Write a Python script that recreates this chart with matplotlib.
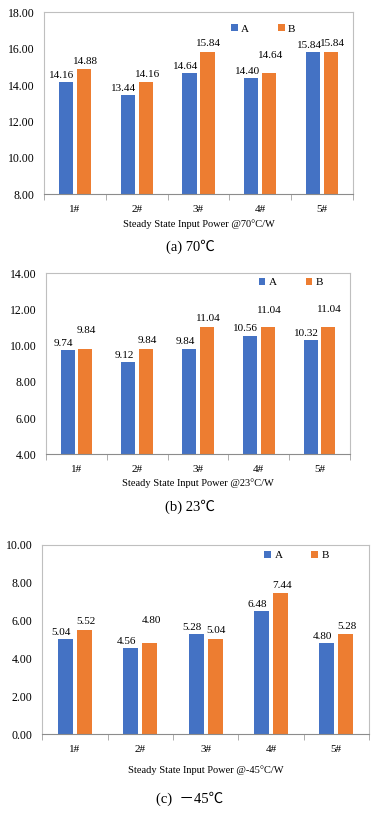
import numpy as np
import matplotlib.pyplot as plt

categories = ["1#", "2#", "3#", "4#", "5#"]
series_names = ["A", "B"]

a_70 = [14.16, 13.44, 14.64, 14.40, 15.84]
b_70 = [14.88, 14.16, 15.84, 14.64, 15.84]
a_23 = [9.74, 9.12, 9.84, 10.56, 10.32]
b_23 = [9.84, 9.84, 11.04, 11.04, 11.04]
a_m45 = [5.04, 4.56, 5.28, 6.48, 4.80]
b_m45 = [5.52, 4.80, 5.04, 7.44, 5.28]

xlabels = ["Steady State Input Power @70°C/W",
           "Steady State Input Power @23°C/W",
           "Steady State Input Power @-45°C/W"]
captions = ["(a) 70℃", "(b) 23℃", "(c)  －45℃"]
ylims = [(8, 18), (4, 14), (0, 10)]

BLUE = "#4472C4"
ORANGE = "#ED7D31"
SERIF = ["Liberation Serif", "Noto Sans CJK SC", "DejaVu Sans"]

plt.rcParams["font.family"] = SERIF

fig = plt.figure(figsize=(3.8, 8.23), dpi=100)
rects = [
    [0.116, 0.764, 0.813, 0.221],
    [0.121, 0.448, 0.800, 0.220],
    [0.111, 0.108, 0.860, 0.230],
]
cap_y = [0.700, 0.384, 0.030]
xlab_y = [0.728, 0.413, 0.064]
legend_anchor = [(0.605, 0.935), (0.70, 0.975), (0.68, 0.97)]
# extra lift (points) of B value labels that were moved up in the original
b_lift = [[0, 0, 0, 7, 0], [7, 0, 0, 6, 7], [0, 11, 0, 0, 0]]

panels = [(a_70, b_70), (a_23, b_23), (a_m45, b_m45)]
x = np.arange(len(categories))
w = 0.23
off = 0.145

for i, (va, vb) in enumerate(panels):
    ax = fig.add_axes(rects[i])
    ax.bar(x - off, va, w, color=BLUE, label=series_names[0], zorder=2)
    ax.bar(x + off, vb, w, color=ORANGE, label=series_names[1], zorder=2)
    for j in range(len(categories)):
        ax.annotate(f"{va[j]:.2f}", (x[j] - off, va[j]), xytext=(-3, 1.5),
                    textcoords="offset points", ha="center", va="bottom", fontsize=8)
        ax.annotate(f"{vb[j]:.2f}", (x[j] + off, vb[j]), xytext=(1, 2.5 + b_lift[i][j]),
                    textcoords="offset points", ha="center", va="bottom", fontsize=8)

    lo, hi = ylims[i]
    ticks = np.arange(lo, hi + 0.1, 2)
    ax.set_ylim(lo, hi)
    ax.set_yticks(ticks)
    ax.set_yticklabels([f"{v:.2f}" for v in ticks])
    ax.set_xlim(-0.5, len(categories) - 0.5)
    ax.set_xticks(x)
    ax.set_xticklabels(categories)
    ax.set_xticks(np.arange(-0.5, len(categories), 1), minor=True)
    ax.tick_params(axis="x", which="major", length=0, labelsize=8, pad=8)
    ax.tick_params(axis="x", which="minor", length=4, color="#a0a0a0", direction="out")
    ax.tick_params(axis="y", length=0, labelsize=8.5, pad=7)

    for s in ["top", "right", "left"]:
        ax.spines[s].set_color("#bfbfbf")
        ax.spines[s].set_linewidth(0.8)
    ax.spines["bottom"].set_color("#8c8c8c")
    ax.spines["bottom"].set_linewidth(0.8)

    ax.legend(loc="upper left", bbox_to_anchor=legend_anchor[i], ncol=2, frameon=False,
              fontsize=8, handlelength=0.6, handleheight=0.6, handletextpad=0.3,
              columnspacing=2.6, borderaxespad=0, borderpad=0)

    fig.text(rects[i][0] + rects[i][2] / 2, xlab_y[i], xlabels[i],
             ha="center", va="center", fontsize=7.5)
    fig.text(0.5, cap_y[i], captions[i], ha="center", va="center", fontsize=10.5)

fig.savefig("out.png", dpi=100)
